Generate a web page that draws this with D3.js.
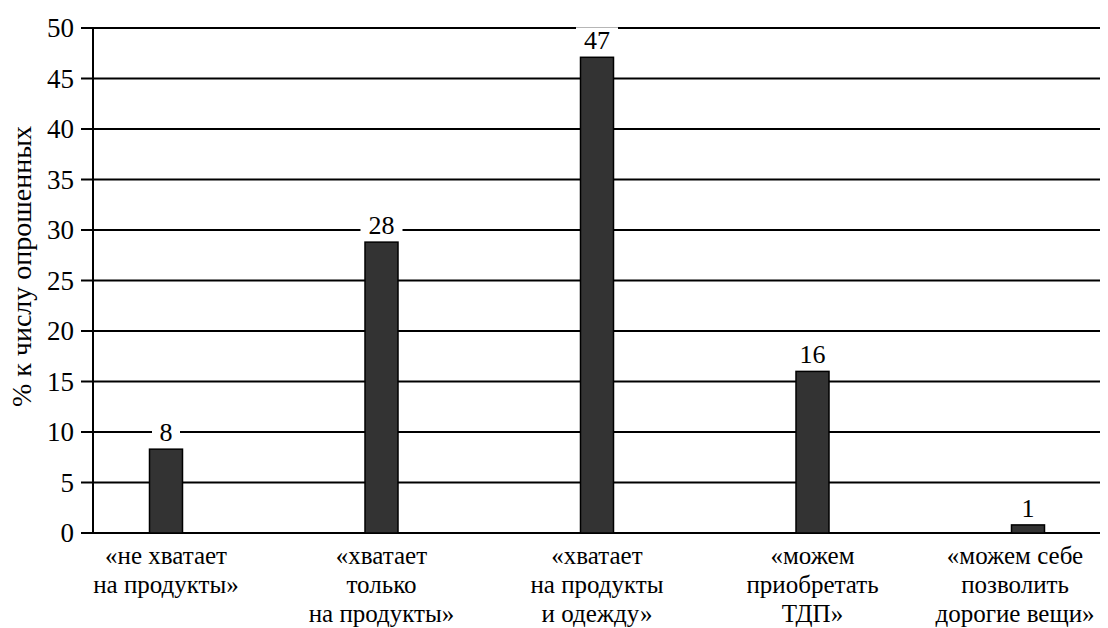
<!DOCTYPE html>
<html>
<head>
<meta charset="utf-8">
<script src="https://cdn.jsdelivr.net/npm/d3@7"></script>
</head>
<body style="margin:0">
<svg id="c" width="1108" height="628"></svg>
<script>
const categories = [
  ["«не хватает", "на продукты»"],
  ["«хватает", "только", "на продукты»"],
  ["«хватает", "на продукты", "и одежду»"],
  ["«можем", "приобретать", "ТДП»"],
  ["«можем себе", "позволить", "дорогие вещи»"]
];
const values = [8.3, 28.8, 47.1, 16.0, 0.8];
const valueLabels = ["8", "28", "47", "16", "1"];
const yTicks = [0, 5, 10, 15, 20, 25, 30, 35, 40, 45, 50];
const yTitle = "% к числу опрошенных";

const FONT = "Liberation Serif";
const W = 1108, H = 628;
const margin = { left: 93, right: 8, top: 28, bottom: 95 };
const svg = d3.select("#c");
const ids = categories.map((c, i) => i);

function serif(sel, fs) {
  return sel.attr("font-family", FONT).attr("font-size", fs).attr("fill", "#000")
    .style("font-family", FONT, "important").style("font-size", fs + "px", "important");
}

const y = d3.scaleLinear().domain([0, 50]).range([H - margin.bottom, margin.top]);
const x = d3.scalePoint().domain(ids).range([margin.left + 73, W - 80]);
const barW = 33;

// gridlines
svg.append("g").selectAll("line").data(yTicks).join("line")
  .attr("x1", margin.left - 12).attr("x2", W - margin.right)
  .attr("y1", d => y(d)).attr("y2", d => y(d))
  .attr("stroke", "#000").attr("stroke-width", 2);

// tick labels
svg.append("g").selectAll("text").data(yTicks).join("text")
  .attr("x", margin.left - 19).attr("y", d => y(d) + 9)
  .attr("text-anchor", "end")
  .call(serif, 27)
  .text(d => d);

// y axis line
svg.append("line").attr("x1", margin.left).attr("x2", margin.left)
  .attr("y1", y(50)).attr("y2", y(0)).attr("stroke", "#000").attr("stroke-width", 2);

// y title
svg.append("text")
  .attr("transform", `translate(31,${(y(0) + y(50)) / 2 - 14}) rotate(-90)`)
  .attr("text-anchor", "middle").call(serif, 28).text(yTitle);

// bars
svg.append("g").selectAll("rect").data(ids).join("rect")
  .attr("x", i => x(i) - barW / 2)
  .attr("y", i => y(values[i]))
  .attr("width", barW)
  .attr("height", i => y(0) - y(values[i]))
  .attr("fill", "#333").attr("stroke", "#000").attr("stroke-width", 1.5);

// value labels with white background
const lg = svg.append("g").selectAll("g").data(ids).join("g")
  .attr("transform", i => `translate(${x(i)},${y(values[i]) - 8})`);
lg.append("rect")
  .attr("x", i => -(valueLabels[i].length * 14 + 14) / 2)
  .attr("y", -22).attr("height", 22)
  .attr("width", i => valueLabels[i].length * 14 + 14)
  .attr("fill", "#fff");
lg.append("text").attr("text-anchor", "middle").call(serif, 26)
  .text(i => valueLabels[i]);

// category labels (one text per line)
const lines = [];
categories.forEach((c, i) => c.forEach((t, j) => lines.push({ i, j, t })));
svg.append("g").selectAll("text").data(lines).join("text")
  .attr("text-anchor", "middle").call(serif, 25)
  .attr("x", d => d.i === 4 ? x(d.i) - 13 : x(d.i))
  .attr("y", d => y(0) + 31 + d.j * 29)
  .text(d => d.t);
</script>
</body>
</html>
